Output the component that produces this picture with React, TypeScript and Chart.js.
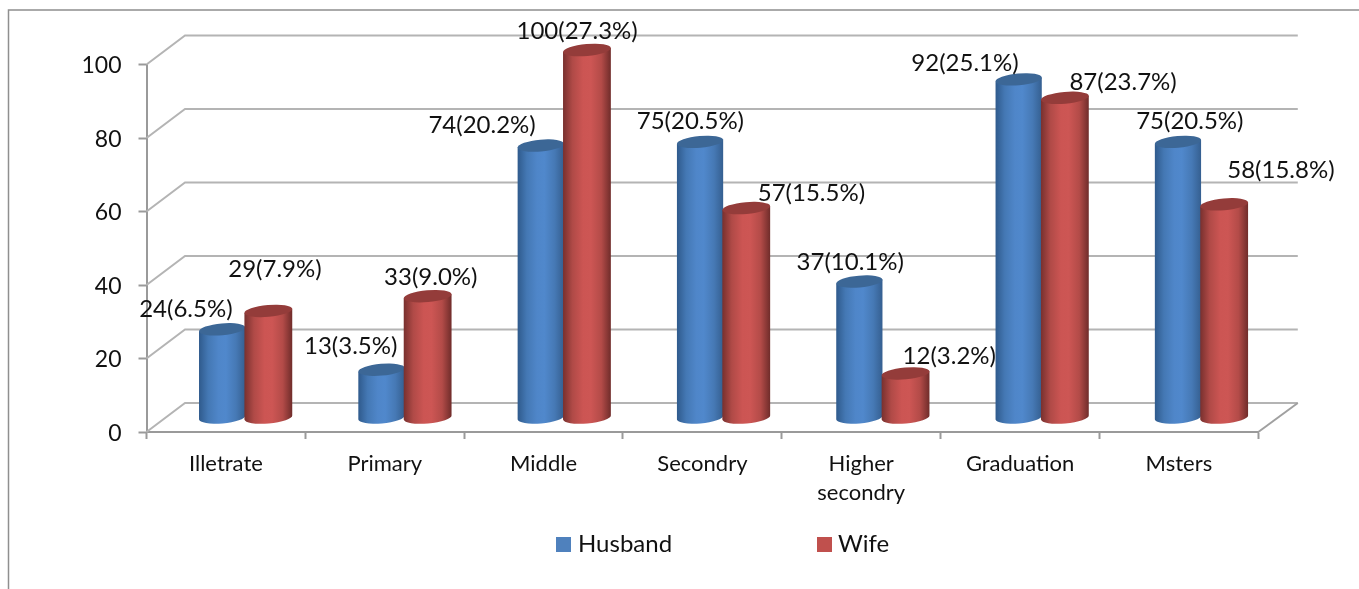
import React, { useEffect, useRef } from "react";
import { Chart, registerables } from "chart.js";

Chart.register(...registerables);

const categories: (string | string[])[] = ["Illetrate", "Primary", "Middle", "Secondry", ["Higher", "secondry"], "Graduation", "Msters"];
const husband = [24, 13, 74, 75, 37, 92, 75];
const wife = [29, 33, 100, 57, 12, 87, 58];
const husbandLabels = ["24(6.5%)", "13(3.5%)", "74(20.2%)", "75(20.5%)", "37(10.1%)", "92(25.1%)", "75(20.5%)"];
const wifeLabels = ["29(7.9%)", "33(9.0%)", "100(27.3%)", "57(15.5%)", "12(3.2%)", "87(23.7%)", "58(15.8%)"];
const husbandLabelOffsetX = [-17, -11, -38.5, 11, 12, -32, 34];
const husbandLabelOffsetY = [-35, -38, -35, -35, -34, -31, -35];
const wifeLabelOffsetX = [26, 23, 10.5, 86, 65, 80, 79];
const wifeLabelOffsetY = [-56, -33, -33, -29, -32, -30, -49];
const yTicks = [0, 20, 40, 60, 80, 100];

const FONT = "Lato, Carlito, Calibri, sans-serif";
const DEPTH_X = 38.5;
const DEPTH_Y = 29;
const ROT = (-5 * Math.PI) / 180;
const RY = 5.9;

const themes = [
  { rx: 23.2, stops: ["#2f5a8c", "#4478b4", "#4f86c9", "#5088cc", "#4679b5", "#355f90"], top: "#3c6796", swatch: "#4f81bd" },
  { rx: 24, stops: ["#78302e", "#b04a47", "#cc5553", "#cd5654", "#b34b48", "#6f2c2a"], top: "#943c3a", swatch: "#c0504d" },
];

const scene = {
  id: "scene3d",
  beforeDatasetsDraw(chart: any) {
    const { ctx, scales } = chart;
    const y = scales.y;
    const x = scales.x;
    ctx.save();
    ctx.strokeStyle = "#8f8f8f";
    ctx.lineWidth = 1.5;
    ctx.beginPath();
    ctx.moveTo(8.5, 589);
    ctx.lineTo(8.5, 10);
    ctx.lineTo(1359, 10);
    ctx.stroke();

    ctx.strokeStyle = "#b4b4b4";
    ctx.lineWidth = 2;
    yTicks.forEach((t) => {
      const py = y.getPixelForValue(t);
      ctx.beginPath();
      ctx.moveTo(x.left, py);
      ctx.lineTo(x.left + DEPTH_X, py - DEPTH_Y);
      ctx.lineTo(x.right + DEPTH_X + 1, py - DEPTH_Y);
      ctx.stroke();
    });
    const y0 = y.getPixelForValue(0);
    ctx.strokeStyle = "#a0a0a0";
    ctx.beginPath();
    ctx.moveTo(x.right + DEPTH_X + 1, y0 - DEPTH_Y);
    ctx.lineTo(x.right, y0);
    ctx.stroke();
    ctx.restore();
  },
  afterDatasetsDraw(chart: any) {
    const { ctx, scales } = chart;
    const y = scales.y;
    const y0 = y.getPixelForValue(0);
    ctx.save();
    const centre = (x: number) => x + DEPTH_X / 2 + (x - 203) * 0.003;

    for (let i = 0; i < categories.length; i++) {
      [0, 1].forEach((ds) => {
        const el = chart.getDatasetMeta(ds).data[i];
        const theme = themes[ds];
        const RX = theme.rx;
        const cx = centre(el.x);
        const top = el.y - DEPTH_Y / 2;
        const base = y0 - DEPTH_Y / 2;
        const dx = RX * Math.cos(ROT);
        const dy = RX * Math.sin(ROT);
        const g = ctx.createLinearGradient(cx - RX, 0, cx + RX, 0);
        [0, 0.2, 0.42, 0.58, 0.8, 1].forEach((p, k) => g.addColorStop(p, theme.stops[k]));
        ctx.fillStyle = g;
        ctx.beginPath();
        ctx.moveTo(cx - dx, top - dy);
        ctx.lineTo(cx - dx, base - dy);
        ctx.ellipse(cx, base, RX, RY, ROT, Math.PI, 0, true);
        ctx.lineTo(cx + dx, top + dy);
        ctx.closePath();
        ctx.fill();
        ctx.fillStyle = theme.top;
        ctx.beginPath();
        ctx.ellipse(cx, top, RX, RY, ROT, 0, Math.PI * 2);
        ctx.fill();
      });
    }

    ctx.fillStyle = "#111111";
    ctx.font = `24px ${FONT}`;
    ctx.textAlign = "center";
    ctx.textBaseline = "middle";
    for (let i = 0; i < categories.length; i++) {
      const h = chart.getDatasetMeta(0).data[i];
      const w = chart.getDatasetMeta(1).data[i];
      ctx.fillText(husbandLabels[i], h.x + husbandLabelOffsetX[i], h.y + husbandLabelOffsetY[i]);
      ctx.fillText(wifeLabels[i], w.x + wifeLabelOffsetX[i], w.y + wifeLabelOffsetY[i]);
    }

    // legend
    ctx.textAlign = "left";
    ctx.font = `24px ${FONT}`;
    ctx.fillStyle = themes[0].swatch;
    ctx.fillRect(556, 537, 15, 15);
    ctx.fillStyle = themes[1].swatch;
    ctx.fillRect(817, 537, 15, 15);
    ctx.fillStyle = "#111111";
    ctx.fillText("Husband", 578, 544);
    ctx.fillText("Wife", 838, 544);
    ctx.restore();
  },
};

export default function App() {
  const ref = useRef<HTMLCanvasElement>(null);
  useEffect(() => {
    document.body.style.margin = "0";
    const chart = new Chart(ref.current!, {
      type: "bar",
      data: {
        labels: categories as any,
        datasets: [
          { label: "Husband", data: husband, backgroundColor: "rgba(0,0,0,0)", barPercentage: 1, categoryPercentage: 0.58 },
          { label: "Wife", data: wife, backgroundColor: "rgba(0,0,0,0)", barPercentage: 1, categoryPercentage: 0.58 },
        ],
      },
      options: {
        responsive: false,
        animation: false,
        devicePixelRatio: 1,
        layout: { autoPadding: false, padding: { left: 0, right: 100.7, top: 64.5, bottom: 0 } },
        plugins: { legend: { display: false }, title: { display: false }, tooltip: { enabled: false } },
        scales: {
          x: {
            afterFit: (s: any) => { s.height = 157; },
            border: { color: "#9a9a9a", width: 2 },
            grid: { drawOnChartArea: false, drawTicks: true, tickLength: 7, tickColor: "#9a9a9a", tickWidth: 2 },
            ticks: { color: "#111111", padding: 10, maxRotation: 0, autoSkip: false, font: { family: FONT, size: 22, lineHeight: 1.32 } },
          },
          y: {
            min: 0,
            max: 100,
            afterFit: (s: any) => { s.width = 146.5; },
            border: { color: "#9a9a9a", width: 2 },
            grid: { drawOnChartArea: false, drawTicks: true, tickLength: 8, tickColor: "#9a9a9a", tickWidth: 2 },
            ticks: { color: "#111111", stepSize: 20, padding: 17, labelOffset: 1.5, font: { family: FONT, size: 23 } },
          },
        },
      } as any,
      plugins: [scene],
    });
    return () => chart.destroy();
  }, []);
  return <canvas ref={ref} width={1359} height={589} style={{ display: "block" }} />;
}
